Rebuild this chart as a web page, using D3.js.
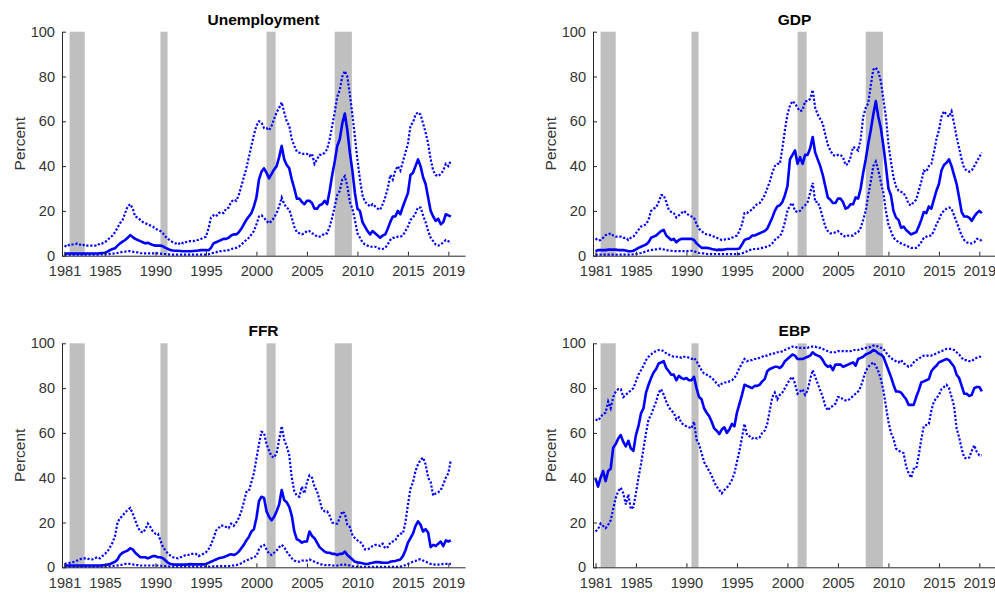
<!DOCTYPE html>
<html>
<head>
<meta charset="utf-8">
<script src="https://cdn.jsdelivr.net/npm/d3@7"></script>
<style>
  body { margin: 0; background: #fff; }
  svg { display: block; font-family: "Liberation Sans", Arial, Helvetica, sans-serif; }
</style>
</head>
<body>
<div id="chart"></div>
<script>
// quarterly dates 1981Q1 .. 2019Q2
var dates = d3.range(1981, 2019.26, 0.25);
var xTicks = [1981, 1985, 1990, 1995, 2000, 2005, 2010, 2015, 2019];
var yTicks = [0, 20, 40, 60, 80, 100];
var recessions = [[1981.5, 1983.0], [1990.5, 1991.2], [2001.0, 2001.9], [2007.75, 2009.45]];
var titles = ["Unemployment", "GDP", "FFR", "EBP"];

// Unemployment
var uMed = [
  1, 1, 1, 1,  1, 1, 1, 1,  1, 1, 1, 1,  1, 1, 1.1, 1.2,
  1.3, 1.8, 2.5, 3,  3.3, 4.5, 5.5, 6.3,  7, 8, 9.2, 8.3,  7.5, 7, 6.5, 6,
  5.5, 5.8, 5.2, 4.8,  4.5, 4.5, 4.5, 4.2,  3.5, 3, 2.5, 2.3,  2.2, 2.2, 2.1, 2,
  2, 2, 2, 2.1,  2.2, 2.3, 2.5, 2.5,  2.5, 2.4, 3.5, 5.5,  6, 6.5, 7, 7.5,
  7.5, 8, 9, 9.5,  9.5, 10.5, 12, 14,  16, 17.5, 19, 22,  26, 34, 37.5, 39,
  37, 34.5, 36.5, 38.5,  40, 44, 49, 43,  40.5, 39, 34, 30,  25.5, 25.5, 24, 23,
  24.5, 24.5, 23.5, 21,  21, 22.5, 23, 24.5,  23, 29, 36, 42,  49, 52, 59, 63.5,
  56, 46, 38, 28,  21, 20, 15, 13,  11, 9.5, 11, 10,  9, 8, 9, 9.5,
  12, 15, 17.5, 17.5,  20, 18.5, 22, 25,  28, 36, 37, 40,  43, 40, 35, 32,
  26, 20, 17.5, 15.5,  16.5, 14, 15, 18.5,  18, 17.5
];
var uHi = [
  4.5, 4, 5, 5,  5, 5.5, 5, 4.5,  5, 4.5, 4.5, 4.5,  4.5, 4.5, 5.5, 5.5,
  6, 7, 8, 9,  10.5, 12.5, 14.5, 16,  19, 22, 23, 21,  17.5, 17, 16, 15,
  14.5, 14, 13.5, 13,  12, 11.5, 11, 10,  8.5, 7.5, 6.5, 6,  5.5, 5, 6, 5.5,
  6, 6.5, 6.5, 6.5,  7, 7, 7.5, 8,  8.5, 12, 17, 18,  17.5, 19, 19.5, 19,
  21, 21.5, 24, 25,  24.5, 27, 31, 35,  39, 44, 49, 54,  58, 60, 59.5, 57,
  57, 56, 58, 61,  64, 66, 68.5, 64,  60, 58, 52, 49,  46.5, 46, 45.5, 45.5,
  45.5, 44.5, 45.5, 41,  43, 45, 45, 46,  47.5, 52, 58, 64,  71, 74, 80, 82.5,
  80, 72, 63, 53,  43, 34, 27, 24,  23, 22, 23, 22,  21, 20.5, 23, 26,
  30, 36, 34, 38,  40, 38, 42, 46,  50, 58, 59.5, 63,  64, 63, 59, 55,
  50, 43, 38, 36,  35.5, 36.5, 38, 41,  40, 42.5
];
var uLo = [
  0.5, 0.5, 0.5, 0.5,  0.5, 0.5, 0.5, 0.5,  0.5, 0.5, 0.5, 0.5,  0.5, 0.5, 0.5, 0.6,
  0.6, 0.7, 0.8, 0.9,  1, 1.2, 1.5, 1.7,  1.8, 2, 2, 1.8,  1.5, 1.5, 1.2, 1,
  1, 1, 1, 1,  1, 1, 0.9, 0.8,  0.7, 0.6, 0.5, 0.5,  0.5, 0.5, 0.5, 0.5,
  0.5, 0.5, 0.5, 0.5,  0.5, 0.5, 0.5, 0.5,  0.5, 0.6, 1, 1.3,  1.5, 2, 2, 2.2,
  2.3, 2.5, 3, 3.2,  3.5, 4, 5, 6,  7, 8, 9.5, 11,  14, 17.5, 18, 17,
  15.5, 14.5, 15.5, 17,  19, 22, 26, 23,  21.5, 20.5, 17, 13,  10.5, 10, 9.5, 10,
  11, 11, 10, 9.5,  8.5, 8.5, 9, 10,  10, 13, 17, 22,  27, 29, 34, 35.5,
  31, 24, 21, 16,  10, 8, 6, 5,  4.5, 4, 4, 4,  3.5, 3, 3, 3.5,
  5, 7, 8, 8,  8.5, 8.5, 9, 11,  13, 16, 17, 19,  21.5, 21.5, 18, 15,
  11, 8, 6.5, 5,  4.5, 5, 6, 7,  6.5, 5.5
];

// GDP
var gMed = [
  2, 2.5, 2.5, 2.5,  2.5, 2.7, 2.7, 2.7,  2.7, 2.5, 2.5, 2.5,  2.3, 2, 2, 2.2,
  2.8, 3.5, 4, 4.5,  5, 6, 8, 8.5,  9, 10, 11, 11.5,  9, 8, 7, 7.5,
  6, 7, 7.5, 7.5,  7.5, 7.5, 7.5, 7,  5.5, 4.5, 3.5, 3.5,  3.5, 3.3, 3, 2.8,
  2.5, 2.7, 2.6, 2.8,  3, 3, 3, 3,  3, 3.2, 5, 7,  7.5, 7.8, 9, 9,
  9.5, 10, 10.5, 11,  12, 14.5, 17, 20,  22, 22.5, 24, 27,  31, 43, 45, 47,
  41, 44, 41, 45,  45, 48, 53, 46,  43, 40, 36, 31,  26, 25, 23.5, 23.5,
  25.5, 25.5, 24, 21,  21.5, 23, 23, 26,  25.5, 30, 37, 43,  50, 56, 63, 69,
  62, 57, 49, 40,  30, 27, 20, 17,  16, 12.5, 13, 11.5,  10.5, 9.5, 10, 10.5,
  13, 16, 19.5, 19,  22, 21, 25, 29,  32, 38, 40.5, 41.5,  43, 40, 36, 32,
  26, 19.5, 17.5, 17.5,  17, 15.5, 17.5, 19,  20, 19
];
var gHi = [
  7.7, 6.8, 7, 8,  9.2, 9.5, 10, 9,  8.5, 8.5, 8.5, 8,  8, 7, 8, 8.5,
  10, 11.5, 13, 13.5,  14, 16, 20, 21,  21.5, 24, 27, 27,  24, 20.5, 19.5, 19,
  17, 18, 19, 20,  19, 18, 17.5, 17,  14, 12, 11, 10,  9.5, 9.3, 9, 8.5,
  8, 7.5, 7, 7.2,  7.5, 7.5, 8, 8.5,  9, 11, 14, 19,  19, 20, 20.5, 22,
  23, 23.5, 25, 27,  30, 33, 37, 40,  41, 41, 48, 56,  63, 67, 69, 68,
  66, 64.5, 65, 69,  69, 70, 74, 66,  63, 61, 59, 54,  49.5, 47, 45, 44.5,
  45, 45, 44, 40.5,  41, 44, 48.5, 48,  47, 52, 62, 66,  68, 76, 83, 84,
  82, 78, 70, 62,  50, 42, 35, 31,  29, 28.5, 28, 26,  23, 22.5, 24, 25,
  29, 33, 38, 37.5,  40, 41, 46, 52,  56, 62, 64.5, 63,  62, 64.5, 59, 53,
  48, 43, 39, 38,  37.5, 38, 40, 42,  44, 46
];
var gLo = [
  0.5, 0.5, 0.5, 0.5,  0.5, 0.5, 0.5, 0.5,  0.5, 0.5, 0.5, 0.5,  0.5, 0.5, 0.5, 0.6,
  0.7, 1, 1.2, 1.5,  2, 2.3, 2.5, 2.8,  2.8, 3, 3.2, 2.8,  2.5, 2.3, 2.2, 2,
  2, 2, 2, 2,  2, 2.2, 2.2, 2,  1.5, 1.2, 1, 1,  0.8, 0.7, 0.7, 0.7,
  0.7, 0.7, 0.7, 0.7,  0.7, 0.7, 0.7, 0.7,  0.7, 0.8, 1, 1.5,  2, 2.5, 2.8, 3,
  3, 3.2, 3.5, 3.8,  4, 4.5, 5.5, 7,  8, 8.5, 11, 15,  20, 22.5, 23.5, 20,
  19.5, 20, 21.5, 22.5,  24, 28, 32.5, 24,  24, 21, 17, 13,  11, 10, 10, 10.5,
  11, 10, 9, 8.5,  9, 9, 9, 10,  10.5, 12.5, 16, 20,  27, 33, 40, 42,
  38, 33, 28, 20,  14, 11, 8, 7,  6, 5.5, 5, 4.5,  4, 3.5, 3.5, 3.5,
  4.5, 6, 8, 8.5,  9, 9, 11, 14,  16, 19, 20, 21,  21.5, 21, 18, 15,
  12, 9, 7, 6,  5.5, 5.5, 6, 7.5,  7.5, 6.5
];

// FFR
var fMed = [
  0.8, 0.8, 0.8, 0.8,  0.8, 0.8, 0.8, 0.8,  0.8, 0.8, 0.8, 0.8,  0.8, 0.8, 0.8, 0.9,
  1, 1.2, 1.5, 2,  2.5, 3.5, 5.5, 6.5,  7, 7.5, 8.5, 8,  6.5, 5.5, 4.5, 4.5,
  4.5, 4, 4.5, 5,  5, 4.5, 4.5, 4,  3, 2, 1.5, 1.3,  1.2, 1.2, 1.2, 1.2,
  1.2, 1.3, 1.4, 1.3,  1.3, 1.3, 1.3, 1.3,  1.5, 2, 2.5, 3,  3.5, 4, 4.3, 4.5,
  5, 5.5, 5.8, 5.5,  6, 7, 8.5, 10,  12, 13.5, 16, 17,  22, 29.5, 31.5, 31,
  25, 22.5, 21, 22.5,  25, 28, 34.5, 30,  29, 27, 23, 16,  12.5, 12, 11, 11.5,
  11.5, 16, 14, 13,  11, 9, 8, 7,  6.5, 6.5, 6, 6,  5.5, 6, 6, 7,
  5.5, 4.5, 3.5, 2.5,  2.2, 2, 1.8, 1.5,  1.5, 1.8, 2, 2.3,  2.3, 2.2, 2, 2,
  2, 2.5, 2.7, 2.8,  3.2, 3.5, 5, 7.5,  11, 13, 15, 18.5,  20.5, 19, 16, 17,
  15.5, 9, 10, 9.5,  10.5, 11.5, 9.5, 12,  11.5, 12
];
var fHi = [
  1.5, 1.8, 2, 2.2,  2.5, 3, 3.5, 4,  4, 4, 3.5, 3.5,  4, 4.5, 4, 5,
  6, 7, 9, 11,  14, 20, 22, 23,  24.5, 25.5, 26.5, 24,  21, 18, 16, 15.5,
  17, 19.5, 18, 16,  15, 15, 12, 9,  7.5, 6, 5.2, 4.5,  4.2, 4, 4.5, 5,
  5.5, 5.5, 6, 6,  6, 5, 5.5, 6,  6.7, 8, 10, 13,  16.4, 17.5, 18.7, 18.5,
  18, 17.5, 19.5, 18.5,  20, 22, 25, 29,  33.6, 34, 38, 42,  48.5, 55, 60.5, 60,
  55, 52, 49.5, 49,  51, 57, 63, 57,  54, 50, 40, 34,  32, 31.5, 36, 33,
  38, 41, 40, 36,  34, 30, 26, 25,  25, 23, 20, 19.5,  19.5, 22, 25, 24,
  19, 18, 14.5, 13,  12, 11.5, 10, 8,  8, 8.5, 9.5, 10,  10, 9.5, 10.5, 8.5,
  9, 11, 11.5, 12,  14, 15, 15, 20,  28, 35, 38, 43,  46, 48, 49, 46,
  40, 38, 32, 33,  33.5, 34.5, 37, 40,  42, 48
];
var fLo = [
  0.3, 0.3, 0.3, 0.3,  0.3, 0.3, 0.3, 0.3,  0.3, 0.3, 0.3, 0.3,  0.3, 0.3, 0.3, 0.3,
  0.3, 0.4, 0.5, 0.6,  0.7, 0.8, 1, 1.2,  1.5, 1.5, 1.5, 1.3,  1, 1, 0.8, 0.8,
  0.8, 0.8, 0.8, 0.8,  0.8, 0.8, 0.7, 0.6,  0.5, 0.4, 0.3, 0.3,  0.3, 0.3, 0.3, 0.3,
  0.3, 0.3, 0.3, 0.3,  0.3, 0.3, 0.3, 0.3,  0.3, 0.3, 0.3, 0.4,  0.4, 0.5, 0.5, 0.5,
  0.5, 0.5, 0.8, 0.8,  1, 1.3, 1.8, 2.5,  3, 3.5, 4, 4.5,  5, 8, 9.5, 10,
  8, 6, 5.5, 6.5,  7.5, 9, 10, 9,  7, 5.5, 4, 3,  2.5, 2.5, 3, 3,
  3, 3.5, 3, 2.5,  2, 1.5, 1.2, 1,  1, 1, 0.8, 0.8,  0.8, 1, 1.2, 1.2,
  1, 0.8, 0.5, 0.3,  0.2, 0.2, 0.2, 0.2,  0.2, 0.2, 0.2, 0.2,  0.2, 0.2, 0.2, 0.2,
  0.2, 0.2, 0.2, 0.2,  0.2, 0.3, 0.5, 1,  1.5, 2, 2.5, 2.8,  3.5, 3.5, 3, 2.5,
  2, 1.5, 1.3, 1.2,  1.2, 1.2, 1.5, 1.5,  1.5, 1.5
];

// EBP
var eMed = [
  39.6, 36, 40, 43,  38.5, 43, 44, 53.4,  55, 57.5, 59, 56,  54, 56.5, 53, 52,
  59, 63, 68.7, 71,  78, 81.5, 84.5, 87,  88.5, 91, 91.5, 92,  89, 87.5, 86, 86,
  83.5, 85.5, 84.5, 84,  84.5, 83.5, 83.5, 85,  80, 76, 75, 71,  69, 67.5, 65, 62,
  61, 59.5, 61.5, 62.5,  60, 61.5, 64, 63,  69, 73, 77, 81.5,  81, 80.5, 80, 81,
  81, 81.5, 83, 84,  87.5, 88.5, 89, 89.5,  89.5, 89, 90, 92,  93, 94, 95, 94.5,
  93, 93, 93, 93.5,  94, 94.5, 96, 95,  94.5, 94, 92.5, 90.5,  89.5, 90, 88, 90.5,
  90.5, 90.5, 89.5, 90,  90.5, 91, 91.5, 90,  93, 93.5, 94, 95,  95.5, 96, 97, 96.5,
  95.5, 95, 94, 91,  88, 85, 81.5, 78.5,  78.5, 78, 76.5, 75,  72.5, 72.5, 72.5, 76,
  79, 82.5, 83, 83.5,  84, 87.5, 89, 90,  91.5, 92, 92.5, 93,  92.5, 91, 89.5, 86,
  84.5, 81, 77.5, 77.5,  76.5, 77, 80, 80.5,  80.5, 78.5
];
var eHi = [
  66, 65.5, 67, 68.5,  69, 74, 71, 76,  78.5, 79.5, 79.5, 76,  77, 78, 79, 80,
  83, 86, 88, 90,  92.5, 94, 95, 96,  96.5, 97, 97, 96.5,  95.5, 95, 94.5, 94,
  94, 94, 93.5, 94,  94, 93.5, 93, 93.5,  92, 90, 88, 86.5,  86, 85.5, 84.5, 83.5,
  82, 81, 82, 82.5,  82.5, 83, 83.5, 84.5,  86.5, 89, 91, 93,  92, 92.5, 92.5, 93,
  93, 93.5, 94, 94.5,  94.5, 95, 95.5, 95.5,  96, 96, 96.5, 97,  97.5, 98, 98.5, 98.5,
  98, 98, 98, 98,  98, 98.5, 98.5, 98.5,  98, 98, 97.5, 97,  96.5, 96, 96, 96,
  96.5, 96.5, 96.5, 96.5,  96.5, 96.5, 97, 97,  97, 97.5, 97.5, 98,  98, 98.5, 99, 99,
  98.5, 98, 97.5, 96,  94.5, 93.5, 92.5, 92,  91.5, 92.5, 91, 90.5,  89.5, 90, 91.5, 92.5,
  93, 94, 94.5, 94.5,  94.5, 94.5, 95, 95.5,  96, 96.5, 97, 97.5,  97.5, 97.5, 97, 96,
  95, 93.5, 92.5, 92.5,  92, 92, 93, 93.5,  94, 94
];
var eLo = [
  16, 17, 19.5, 18.5,  17.5, 19, 21, 26,  31, 34, 35.5, 33,  28, 32.5, 26, 27,
  33, 40, 46, 53,  60, 66, 68, 71,  74, 78, 79.5, 77,  74, 71.5, 70, 69,
  66, 67, 64.5, 63.5,  63, 62.5, 62, 65,  57, 55, 51, 47,  45, 43, 41, 38,
  36, 34.5, 33, 34.5,  35.5, 37, 39, 42,  47, 52, 58, 64,  59, 58.5, 57.5, 58,
  57.5, 58, 60, 61,  64, 70, 76, 78,  75, 77, 78, 80,  82, 84, 85, 82,
  77.5, 78.5, 79.5, 77,  79, 84, 88, 85,  82, 79, 76, 72,  70, 71.5, 72, 73,
  76, 76, 75, 74.5,  74.5, 75.5, 76.5, 77.5,  78.5, 80.5, 84, 87.5,  89.5, 90.5, 91.5, 90,
  87.5, 84, 79, 72,  65, 60, 57.5, 53,  52, 51.5, 51, 45,  42, 40, 44, 44,
  50, 57, 63, 63.5,  64, 70, 74, 75.5,  77, 79.5, 80.5, 81.5,  80, 76, 72, 62,
  58, 53, 49, 48.5,  49, 52, 54.5, 51.5,  50, 50
];

var seriesMed = [uMed, gMed, fMed, eMed];
var seriesHi = [uHi, gHi, fHi, eHi];
var seriesLo = [uLo, gLo, fLo, eLo];

// panel layout
var W = 995, H = 595;
var panelW = 403, panelH = 224;
var lefts = [62, 593, 62, 593];
var tops = [31.7, 31.7, 343.3, 343.3];

var svg = d3.select("#chart")
  .append("svg")
    .attr("width", W)
    .attr("height", H);

svg.append("rect").attr("width", W).attr("height", H).attr("fill", "#fff");

var axisColor = "#262626";

titles.forEach(function(title, i) {
  var g = svg.append("g")
    .attr("transform", "translate(" + lefts[i] + "," + tops[i] + ")");

  var x = d3.scaleLinear()
    .domain([1980.75, 2020.65])
    .range([0, panelW]);
  var y = d3.scaleLinear()
    .domain([0, 100])
    .range([panelH, 0]);

  // recession bars
  g.selectAll("rect.rec")
    .data(recessions)
    .enter()
    .append("rect")
      .attr("class", "rec")
      .attr("x", function(d) { return x(d[0]); })
      .attr("width", function(d) { return x(d[1]) - x(d[0]); })
      .attr("y", y(100))
      .attr("height", y(0) - y(100))
      .attr("fill", "#bfbfbf");

  var line = d3.line()
    .x(function(d, k) { return x(dates[k]); })
    .y(function(d) { return y(d); });

  // bands (dotted)
  [seriesHi[i], seriesLo[i]].forEach(function(s) {
    g.append("path")
      .datum(s)
      .attr("d", line)
      .attr("fill", "none")
      .attr("stroke", "#0000ff")
      .attr("stroke-width", 2.2)
      .attr("stroke-dasharray", "2.2,1.8");
  });

  // median
  g.append("path")
    .datum(seriesMed[i])
    .attr("d", line)
    .attr("fill", "none")
    .attr("stroke", "#0000ff")
    .attr("stroke-width", 2.6)
    .attr("stroke-linejoin", "round");

  // X axis
  var xa = g.append("g")
    .attr("transform", "translate(0," + panelH + ")")
    .call(d3.axisBottom(x).tickValues(xTicks).tickFormat(d3.format("d"))
      .tickSizeInner(-4).tickSizeOuter(0).tickPadding(10));

  // Y axis
  var ya = g.append("g")
    .call(d3.axisLeft(y).tickValues(yTicks)
      .tickSizeInner(-4).tickSizeOuter(0).tickPadding(7));

  [xa, ya].forEach(function(a) {
    a.select(".domain").attr("stroke", axisColor).attr("stroke-width", 1);
    a.selectAll(".tick line").attr("stroke", axisColor).attr("stroke-width", 1);
    a.selectAll(".tick text")
      .attr("fill", "#333")
      .style("font-size", "14.6px")
      .style("font-family", "'Liberation Sans', Arial, sans-serif");
  });

  // title
  g.append("text")
    .attr("x", panelW / 2)
    .attr("y", -7)
    .attr("text-anchor", "middle")
    .style("font-size", "15.5px")
    .style("font-weight", "bold")
    .attr("fill", "#000")
    .text(title);

  // y label
  g.append("text")
    .attr("transform", "translate(" + (-37.5) + "," + (panelH / 2) + ")rotate(-90)")
    .attr("text-anchor", "middle")
    .style("font-size", "15.5px")
    .attr("fill", "#333")
    .text("Percent");
});
</script>
</body>
</html>
